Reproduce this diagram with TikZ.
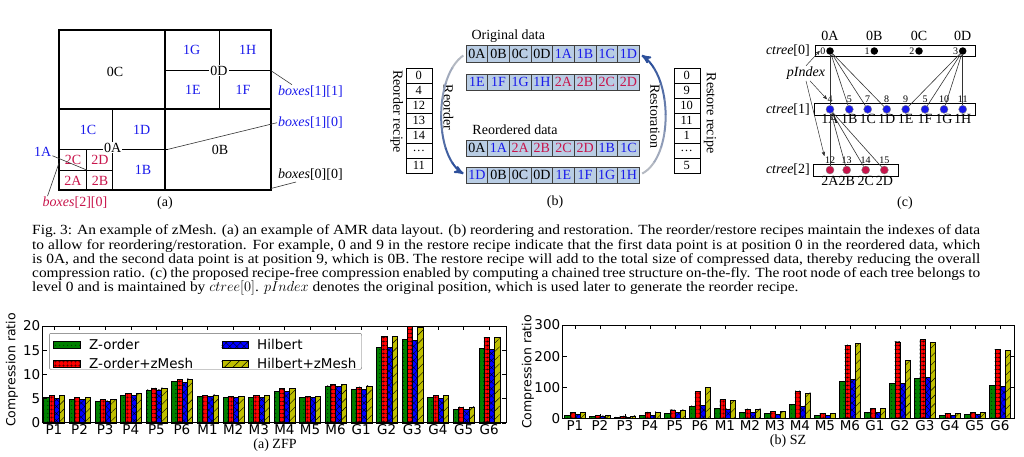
\documentclass[tikz,border=0pt]{standalone}
\usepackage{fontspec}
\setmainfont{Liberation Serif}
\newfontfamily\plotfont{DejaVu Sans}
\newfontfamily\capfont{Liberation Serif}[FakeStretch=1.1]
\usepackage{tikz}
\usetikzlibrary{calc,shapes,arrows,patterns.meta,positioning}
\definecolor{levelone}{RGB}{25,25,235}
\definecolor{leveltwo}{RGB}{200,20,75}
\definecolor{cellblue}{RGB}{185,205,228}
\definecolor{flowblue}{RGB}{45,80,155}
\colorlet{flowlight}{black!22}
\definecolor{zgreen}{RGB}{0,128,0}
\definecolor{hyellow}{RGB}{191,191,0}
\tikzset{
   box label/.style={inner sep=1pt,font=\fontsize{14}{14}\selectfont},
   ref label/.style={box label,anchor=west},
   cell node/.style={rectangle,draw=black!75,fill=cellblue,minimum width=21.7pt,minimum height=16.5pt,inner sep=0pt,font=\fontsize{14}{14}\selectfont},
   recipe node/.style={rectangle,draw,fill=white,minimum width=26pt,minimum height=15pt,inner sep=0pt,font=\fontsize{12.5}{12.5}\selectfont},
   tree box/.style={rectangle,draw,minimum height=11.7pt,inner sep=0pt},
   root dot/.style={circle,fill=black,inner sep=0pt,minimum size=7.5pt},
   child dot/.style={circle,fill=levelone,draw=black!50,inner sep=0pt,minimum size=8pt},
   leaf dot/.style={circle,fill=leveltwo,draw=black!50,inner sep=0pt,minimum size=8pt},
   idx label/.style={inner sep=0.5pt,font=\fontsize{10}{10}\selectfont},
   name label/.style={inner sep=1pt,font=\fontsize{14}{14}\selectfont}
}
\tikzset{
   zorder bar/.style={draw=black,line width=0.3pt,fill=zgreen,postaction={pattern={Dots[distance=4pt,radius=0.5pt]}}},
   zmesh bar/.style={draw=black,line width=0.3pt,fill=red,postaction={pattern={Hatch[angle=0,distance=4pt,line width=0.35pt]}}},
   hilbert bar/.style={draw=black,line width=0.3pt,fill=blue,postaction={pattern={Hatch[angle=45,distance=5pt,line width=0.35pt]}}},
   hmesh bar/.style={draw=black,line width=0.3pt,fill=hyellow,postaction={pattern={Lines[angle=45,distance=6pt,line width=0.4pt]}}},
   tick label/.style={inner sep=1pt,font=\plotfont\fontsize{13.5}{13.5}\selectfont},
   legend label/.style={inner sep=0pt,anchor=west,font=\plotfont\fontsize{13.5}{13.5}\selectfont},
   axis title/.style={font=\plotfont\fontsize{12.5}{12.5}\selectfont,rotate=90},
   sub caption/.style={font=\fontsize{14}{14}\selectfont}
}

\begin{document}
\begin{tikzpicture}[x=1pt,y=-1pt,>=stealth',
                    leader/.style={draw=black!80,line width=0.6pt},
                    flow arrow/.style={line width=2pt,shorten <=3pt,shorten >=3pt},
                    pidx arrow/.style={draw=black!80,line width=0.5pt,->},
                    tree edge/.style={draw=black!80,line width=0.6pt}]
\useasboundingbox (0,0) rectangle (1024,456);
% (a) AMR data layout
\draw[line width=0.6pt] (219,30) -- (219,109) (165,70.7) -- (271,70.7);
\draw[line width=0.6pt] (112.7,109) -- (112.7,149.3) -- (168,149.3);
\draw[line width=0.6pt] (86.7,149.3) -- (86.7,190) (59,170) -- (112.7,170);
\draw[line width=1.5pt] (59,149.3) -- (112.7,149.3) -- (112.7,190);
\draw[line width=1.6pt] (59,30) rectangle (271,190) (165,30) -- (165,190) (59,109) -- (271,109);
\node[box label] (l0C) at (115,71.7) {0C};
\node[box label,text=levelone] (l1G) at (191.7,50) {1G};
\node[box label,text=levelone] (l1H) at (247.7,50) {1H};
\node[box label,fill=white] (l0D) at (219,70.7) {0D};
\node[box label,text=levelone] (l1E) at (193,90) {1E};
\node[box label,text=levelone] (l1F) at (243,90) {1F};
\node[box label,text=levelone] (l1C) at (88,130) {1C};
\node[box label,text=levelone] (l1D) at (141.7,130) {1D};
\node[box label,fill=white] (l0A) at (112.7,147.5) {0A};
\node[box label] (l0B) at (220,150) {0B};
\node[box label,text=levelone] (l1B) at (143,170) {1B};
\node[box label,text=leveltwo] (l2C) at (73,159.5) {2C};
\node[box label,text=leveltwo] (l2D) at (100,159.5) {2D};
\node[box label,text=leveltwo] (l2A) at (73,180.5) {2A};
\node[box label,text=leveltwo] (l2B) at (100,180.5) {2B};
%
\coordinate (e0D) at (271,70.7);
\coordinate (e0A) at (168,149.3);
\coordinate (e0B) at (271,188.5);
\coordinate (c1A) at (86.7,170);
\coordinate (c2A) at (59,163);
\node[ref label,text=levelone] (b11) at (277,91.7) {\textit{boxes}[1][1]};
\node[ref label,text=levelone] (b10) at (277,122.7) {\textit{boxes}[1][0]};
\node[ref label] (b00) at (277,175) {\textit{boxes}[0][0]};
\node[box label,text=leveltwo] (b20) at (75,203) {\textit{boxes}[2][0]};
\node[box label,text=levelone] (l1A) at (42.7,151.7) {1A};
\draw[leader] (e0D) -- ([xshift=15pt]b11.north west);
\draw[leader] (e0A) -- (b10.west);
\draw[leader] (e0B) -- ([xshift=19pt]b00.south west);
\draw[leader] (l1A) -- (c1A);
\draw[leader] ([xshift=6pt]b20.north west) -- (c2A);
\node[sub caption] (capa) at (165,203) {(a)};

% (b) reordering and restoration
\node[sub caption] (orig) at (508.3,36) {Original data};
\node[sub caption] (reord) at (515,130) {Reordered data};
\foreach \lab/\col [count=\i] in {0A/black,0B/black,0C/black,0D/black,1A/levelone,1B/levelone,1C/levelone,1D/levelone}
  \node[cell node,text=\col] (o1-\i) at (466+21.66*\i-10.83,53.8) {\lab};
\foreach \lab/\col [count=\i] in {1E/levelone,1F/levelone,1G/levelone,1H/levelone,2A/leveltwo,2B/leveltwo,2C/leveltwo,2D/leveltwo}
  \node[cell node,text=\col] (o2-\i) at (466+21.66*\i-10.83,82) {\lab};
\foreach \lab/\col [count=\i] in {0A/black,1A/levelone,2A/leveltwo,2B/leveltwo,2C/leveltwo,2D/leveltwo,1B/levelone,1C/levelone}
  \node[cell node,text=\col] (r1-\i) at (466+21.66*\i-10.83,148.3) {\lab};
\foreach \lab/\col [count=\i] in {1D/levelone,0B/black,0C/black,0D/black,1E/levelone,1F/levelone,1G/levelone,1H/levelone}
  \node[cell node,text=\col] (r2-\i) at (466+21.66*\i-10.83,175) {\lab};
\foreach \v [count=\i] in {0,4,12,13,14,\ldots,11}
  \node[recipe node] (rr-\i) at (418.8,60.8+15*\i) {\v};
\foreach \v [count=\i] in {0,9,10,11,1,\ldots,5}
  \node[recipe node] (rs-\i) at (686.7,60.8+15*\i) {\v};
\node[sub caption,rotate=-90] (rrtitle) at (396.7,111.7) {Reorder recipe};
\node[sub caption,rotate=-90] (rstitle) at (710,113) {Restore recipe};
\node[sub caption,rotate=-90] (rotitle) at (448.3,107.5) {Reorder};
\node[sub caption,rotate=-90] (retitle) at (655,116.5) {Restoration};
% fading arrows, drawn piece by piece
\foreach \k in {0,...,7}{
  \pgfmathsetmacro\off{\k*16.5}
  \pgfmathsetmacro\shade{12+\k*88/7}
  \draw[flow arrow,draw=flowblue!\shade!flowlight,dash pattern=on 0pt off \off pt on 17pt off 400pt]
    (o1-1.west) .. controls +(-32,22) and +(-32,-18) .. (r2-1.west);
  \draw[flow arrow,draw=flowblue!\shade!flowlight,dash pattern=on 0pt off \off pt on 17pt off 400pt]
    (r2-8.east) .. controls +(34,-18) and +(34,22) .. (o1-8.east);
}
\draw[flow arrow,->,draw=flowblue,dash pattern=on 0pt off 400pt] (o1-1.west) .. controls +(-32,22) and +(-32,-18) .. (r2-1.west);
\draw[flow arrow,->,draw=flowblue,dash pattern=on 0pt off 400pt] (r2-8.east) .. controls +(34,-18) and +(34,22) .. (o1-8.east);
\node[sub caption] (capb) at (555,201.7) {(b)};

% (c) chained trees
\node[tree box,minimum width=160pt] (t0) at (895,50.8) {};
\node[tree box,minimum width=161pt] (t1) at (894.5,109.2) {};
\node[tree box,minimum width=85.6pt] (t2) at (855.5,170) {};
\node[name label,anchor=east] (c0) at (811,51) {\textit{ctree}[0]};
\node[name label,anchor=east] (c1) at (811,109.2) {\textit{ctree}[1]};
\node[name label,anchor=east] (c2) at (811,170) {\textit{ctree}[2]};
\foreach \x/\lab/\n [count=\i] in {830/0A/0,874.3/0B/1,919/0C/2,962.7/0D/3}
  \node[root dot,label={[name label,label distance=5pt]above:\lab},label={[idx label,name=p0-\i]left:\n}] (t0-\i) at (\x,51) {};
\foreach \x/\lab/\n [count=\i] in {830/1A/4,849.3/1B/5,867.7/1C/7,886.7/1D/8,905.7/1E/9,925/1F/5,944/1G/10,962.7/1H/11}
  \node[child dot,label={[idx label,name=p1-\i,label distance=2pt]above:\n},label={[name label,label distance=0pt]below:\lab}] (t1-\i) at (\x,109.3) {};
\foreach \x/\lab/\n [count=\i] in {830/2A/12,846.7/2B/13,865.7/2C/14,884.3/2D/15}
  \node[leaf dot,label={[idx label,name=p2-\i,label distance=2pt]above:\n},label={[name label,label distance=1pt]below:\lab}] (t2-\i) at (\x,170) {};
\foreach \i in {1,...,4} \draw[tree edge] (t0-1) -- (t1-\i);
\foreach \i in {5,...,8} \draw[tree edge] (t0-4) -- (t1-\i);
\foreach \i in {1,...,4} \draw[tree edge] (t1-1) -- (t2-\i);
\node[name label,font=\itshape\fontsize{14}{14}\selectfont] (pidx) at (806,73.3) {pIndex};
\draw[pidx arrow] (pidx.north) -- (p0-1.west);
\draw[pidx arrow] ([xshift=4pt]pidx.south) -- (p1-1.west);
\draw[pidx arrow] (pidx.south) -- (p2-1.north west);
\node[sub caption] (capc) at (905,203.3) {(c)};

% caption
\node[anchor=north west,inner sep=0pt,text width=948pt,align=justify,font=\capfont\fontsize{14}{14.2}\selectfont] (cap) at (32,224.8)
  {\hyphenpenalty=10000\exhyphenpenalty=10000 Fig.~3: An example of zMesh. (a) an example of AMR data layout. (b) reordering and restoration. The reorder/restore recipes maintain the indexes of data\linebreak
   to allow for reordering/restoration. For example, 0 and 9 in the restore recipe indicate that the first data point is at position 0 in the reordered data, which\linebreak
   is 0A, and the second data point is at position 9, which is 0B. The restore recipe will add to the total size of compressed data, thereby reducing the overall\linebreak
   compression ratio. (c) the proposed recipe-free compression enabled by computing a chained tree structure on-the-fly. The root node of each tree belongs to\linebreak
   level 0 and is maintained by $ctree[0]$. $pIndex$ denotes the original position, which is used later to generate the reorder recipe.};

% ZFP chart
\begin{scope}[shift={(42.7,422.7)},x=25.6pt,y=4.835pt]
\foreach \g/\za/\zb/\ha/\hb [count=\i from 0] in {P1/5.3/5.6/5.1/5.6,P2/4.8/5.2/4.8/5.2,P3/4.55/4.9/4.55/4.9,P4/5.7/6.1/5.6/6.1,P5/6.8/7.25/6.8/7.25,P6/8.5/9.0/8.3/9.1,M1/5.4/5.7/5.4/5.75,M2/5.3/5.5/5.2/5.5,M3/5.25/5.6/5.3/5.6,M4/6.55/7.1/6.5/7.1,M5/5.25/5.5/5.2/5.5,M6/7.6/8.0/7.5/8.0,G1/7.0/7.45/6.9/7.6,G2/15.7/17.9/15.6/17.9,G3/17.3/19.9/17.0/19.8,G4/5.25/5.7/5.1/5.7,G5/2.85/3.25/2.8/3.25,G6/15.4/17.6/15.2/17.6}{
  \draw[zorder bar] (\i+0.03,0) rectangle (\i+0.235,\za);
  \draw[zmesh bar] (\i+0.235,0) rectangle (\i+0.44,\zb);
  \draw[hilbert bar] (\i+0.44,0) rectangle (\i+0.645,\ha);
  \draw[hmesh bar] (\i+0.645,0) rectangle (\i+0.85,\hb);
  \draw (\i+0.44,0) -- ++(0,4pt) (\i+0.44,20) -- ++(0,-4pt);
  \node[tick label,anchor=north] (zfp-\g) at (\i+0.44,-0.2) {\g};
}
\draw[line width=0.6pt] (0,0) rectangle (18.1,20);
\foreach \v in {0,5,10,15,20}{
  \draw (0,\v) -- ++(4pt,0) (18.1,\v) -- ++(-4pt,0);
  \node[tick label,anchor=east] at (-0.05,\v) {\v};
}
\end{scope}
\draw[draw=black!60,rounded corners=2pt,fill=white] (49.3,333.3) rectangle (361.7,369.5);
\draw[zorder bar] (53.3,341) rectangle (80,348);
\node[legend label] (lg1) at (89,344.5) {Z-order};
\draw[zmesh bar] (53.3,360) rectangle (80,367);
\node[legend label] (lg2) at (89,363.5) {Z-order+zMesh};
\draw[hilbert bar] (221.7,341) rectangle (248.3,348);
\node[legend label] (lg3) at (257,344.5) {Hilbert};
\draw[hmesh bar] (221.7,360) rectangle (248.3,367);
\node[legend label] (lg4) at (257,363.5) {Hilbert+zMesh};
\node[axis title] (ylab1) at (12,370) {Compression ratio};
\node[sub caption] (capzfp) at (275,445) {(a) ZFP};

% SZ chart
\begin{scope}[shift={(562.7,418.3)},x=25pt,y=0.311pt]
\foreach \g/\za/\zb/\ha/\hb [count=\i from 0] in {P1/10.6/19/12/19,P2/7.5/10.6/7.5/10.6,P3/5.3/7.5/5.3/7.5,P4/10.6/21/10.6/21,P5/16/26.8/19/26.8,P6/39.6/87.8/41.8/99.6,M1/32/61/31/58,M2/19/31/19/31,M3/16/23.5/13/23.5,M4/45/88.8/40.5/82.4,M5/10.6/16/10.6/16,M6/121/236.8/126.4/242,G1/20.3/33/19/33,G2/114.6/245.4/112.4/187.5,G3/129.6/255/132.8/246.4,G4/10.6/17/9.6/17,G5/13.8/19/13.8/20,G6/107/222.8/102.8/218.6}{
  \draw[zorder bar] (\i+0.07,0) rectangle (\i+0.28,\za);
  \draw[zmesh bar] (\i+0.28,0) rectangle (\i+0.49,\zb);
  \draw[hilbert bar] (\i+0.49,0) rectangle (\i+0.70,\ha);
  \draw[hmesh bar] (\i+0.70,0) rectangle (\i+0.91,\hb);
  \draw (\i+0.49,0) -- ++(0,4pt) (\i+0.49,300) -- ++(0,-4pt);
  \node[tick label,anchor=north] (sz-\g) at (\i+0.49,-3) {\g};
}
\draw[line width=0.6pt] (0,0) rectangle (18.05,300);
\foreach \v in {0,100,200,300}{
  \draw (0,\v) -- ++(4pt,0) (18.05,\v) -- ++(-4pt,0);
  \node[tick label,anchor=east] at (-0.05,\v) {\v};
}
\end{scope}
\node[axis title] (ylab2) at (528,372) {Compression ratio};
\node[sub caption] (capsz) at (788,441) {(b) SZ};
\end{tikzpicture}
\end{document}
